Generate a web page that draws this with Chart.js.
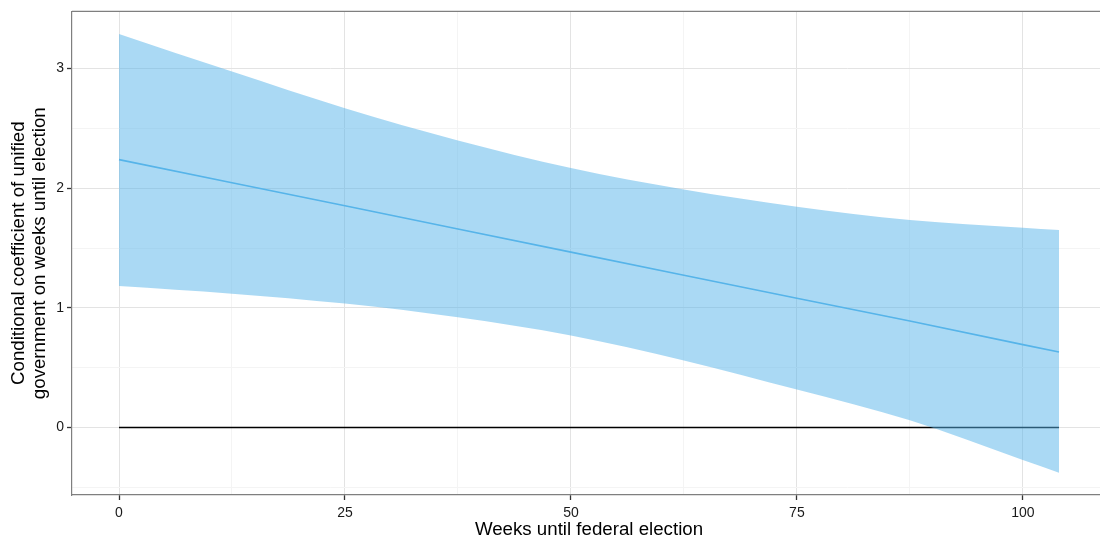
<!DOCTYPE html>
<html lang="en">
<head>
  <meta charset="UTF-8">
  <title>Conditional coefficient</title>
  <style>
    html, body { margin: 0; padding: 0; background: #fff; overflow: hidden; }
    #wrap { width: 1106px; height: 543px; position: relative; }
  </style>
  <script src="https://cdn.jsdelivr.net/npm/chart.js"></script>
</head>
<body>
  <div id="wrap"><canvas id="coefChart"></canvas></div>

  <script>
    // weeks until election
    const weeks = [0, 12.5, 25, 37.5, 50, 62.5, 75, 87.5, 100, 104];
    const estimate = [2.239, 2.046, 1.853, 1.660, 1.466, 1.273, 1.080, 0.890, 0.693, 0.631];
    const upper = [3.29, 2.975, 2.669, 2.40, 2.169, 1.989, 1.846, 1.735, 1.669, 1.65];
    const lower = [1.183, 1.119, 1.036, 0.921, 0.769, 0.561, 0.317, 0.060, -0.272, -0.378];
    const zeroLine = [0, 0];
    const zeroWeeks = [0, 104];

    const xTicks = [0, 12.5, 25, 37.5, 50, 62.5, 75, 87.5, 100];
    const yTicks = [-0.5, 0, 0.5, 1, 1.5, 2, 2.5, 3];

    const pts = (xs, ys) => xs.map((x, i) => ({ x: x, y: ys[i] }));
    const isMajor = v => Number.isInteger(v);
    const font = "'Liberation Sans', Arial, sans-serif";

    // top panel border (ggplot-like box)
    const panelBorder = {
      id: 'panelBorder',
      afterDraw(chart) {
        const { ctx, chartArea } = chart;
        ctx.save();
        ctx.strokeStyle = '#7f7f7f';
        ctx.lineWidth = 1.2;
        ctx.beginPath();
        ctx.moveTo(chartArea.left, chartArea.top);
        ctx.lineTo(chartArea.right, chartArea.top);
        ctx.stroke();
        ctx.restore();
      }
    };

    new Chart(document.getElementById('coefChart'), {
      type: 'line',
      data: {
        datasets: [
          {
            label: 'upper',
            data: pts(weeks, upper),
            borderWidth: 0,
            borderColor: 'rgba(0,0,0,0)',
            backgroundColor: 'rgba(86,180,233,0.5)',
            fill: '+1',
            pointRadius: 0,
            cubicInterpolationMode: 'monotone'
          },
          {
            label: 'lower',
            data: pts(weeks, lower),
            borderWidth: 0,
            borderColor: 'rgba(0,0,0,0)',
            fill: false,
            pointRadius: 0,
            cubicInterpolationMode: 'monotone'
          },
          {
            label: 'estimate',
            data: pts(weeks, estimate),
            borderColor: '#56B4E9',
            borderWidth: 1.6,
            fill: false,
            pointRadius: 0
          },
          {
            label: 'zero',
            data: pts(zeroWeeks, zeroLine),
            borderColor: '#000',
            borderWidth: 1.4,
            fill: false,
            pointRadius: 0
          }
        ]
      },
      options: {
        responsive: true,
        maintainAspectRatio: false,
        animation: false,
        events: [],
        layout: { padding: { top: 10, right: 0, left: 0, bottom: 0 } },
        plugins: {
          legend: { display: false },
          tooltip: { enabled: false }
        },
        scales: {
          x: {
            type: 'linear',
            min: -5.2,
            max: 109.2,
            afterBuildTicks: s => { s.ticks = xTicks.map(v => ({ value: v })); },
            afterFit: s => { s.height = 48; },
            grid: {
              color: c => isMajor(c.tick.value / 25) ? '#e3e3e3' : '#f4f4f4',
              lineWidth: 1,
              tickLength: 5,
              tickColor: c => isMajor(c.tick.value / 25) ? '#333' : 'rgba(0,0,0,0)',
              tickWidth: 1.3
            },
            border: { display: true, color: '#7f7f7f', width: 1.2 },
            ticks: {
              autoSkip: false,
              maxRotation: 0,
              padding: 5,
              color: '#1a1a1a',
              font: { family: font, size: 14 },
              callback: v => isMajor(v / 25) ? String(v) : ''
            },
            title: {
              display: true,
              text: 'Weeks until federal election',
              color: '#000',
              font: { family: font, size: 18.7, lineHeight: 1.2 },
              padding: { top: 0, bottom: 2 }
            }
          },
          y: {
            type: 'linear',
            min: -0.564,
            max: 3.478,
            afterBuildTicks: s => { s.ticks = yTicks.map(v => ({ value: v })); },
            afterFit: s => { s.width = 72; },
            grid: {
              color: c => isMajor(c.tick.value) ? '#e3e3e3' : '#f4f4f4',
              lineWidth: 1,
              tickLength: 5,
              tickColor: c => isMajor(c.tick.value) ? '#333' : 'rgba(0,0,0,0)',
              tickWidth: 1.3
            },
            border: { display: true, color: '#7f7f7f', width: 1.2 },
            ticks: {
              autoSkip: false,
              padding: 3,
              color: '#1a1a1a',
              font: { family: font, size: 14 },
              callback: v => isMajor(v) ? String(v) : ''
            },
            title: {
              display: true,
              text: ['Conditional coefficient of unified', 'government on weeks until election'],
              color: '#000',
              font: { family: font, size: 18.7, lineHeight: 1.1 },
              padding: { top: 8.7, bottom: 0 }
            }
          }
        }
      },
      plugins: [panelBorder]
    });
  </script>
</body>
</html>
